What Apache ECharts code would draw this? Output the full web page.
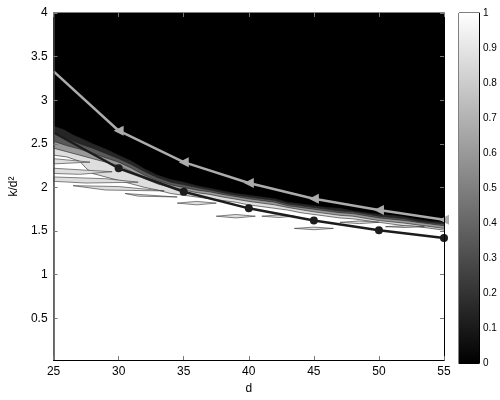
<!DOCTYPE html>
<html><head><meta charset="utf-8">
<script src="https://cdn.jsdelivr.net/npm/echarts@6/dist/echarts.min.js"></script>
<style>html,body{margin:0;padding:0;background:#fff}#c{width:500px;height:400px}</style>
</head><body><div id="c"></div>
<script>
// ---- data ----
const dValues = [25, 30, 35, 40, 45, 50, 55];
const upperCurve = [3.33, 2.65, 2.29, 2.05, 1.87, 1.74, 1.63];   // light gray, triangles
const lowerCurve = [2.63, 2.22, 1.95, 1.76, 1.62, 1.51, 1.42];   // dark, circles
const xTicks = [25, 30, 35, 40, 45, 50, 55];
const yTicks = [0.5, 1, 1.5, 2, 2.5, 3, 3.5, 4];
const colorbarTicks = [0, 0.1, 0.2, 0.3, 0.4, 0.5, 0.6, 0.7, 0.8, 0.9, 1];
const yMin = 0.02, yMax = 4, xMin = 25, xMax = 55;

// contour level boundaries (upper edge of each filled level), region above first = 0 (black)
const contourLevels = [0.15, 0.35, 0.6, 0.87, 1.0];
const level015 = [[25,2.70],[25.8,2.66],[26.5,2.60],[27.3,2.55],[28,2.50],[29,2.44],[30,2.37],[31,2.30],[32,2.21],[33,2.14],[34,2.09],[35,2.06],[36,2.02],[37,1.99],[38,1.96],[39,1.93],[40,1.91],[41,1.89],[42,1.87],[43,1.83],[44,1.81],[45,1.79],[46,1.77],[47,1.76],[48,1.73],[49,1.71],[50,1.69],[51,1.68],[52,1.66],[53,1.63],[54,1.61],[55,1.60]];
const level035 = [[25,2.62],[26,2.56],[27,2.50],[28,2.45],[29,2.39],[30,2.33],[31,2.26],[32,2.18],[33,2.11],[34,2.06],[35,2.03],[36,2.00],[37,1.97],[38,1.94],[39,1.91],[40,1.89],[42,1.85],[43,1.81],[44,1.79],[45,1.77],[47,1.73],[48,1.72],[50,1.67],[52,1.64],[53,1.61],[55,1.58]];
const level060 = [[25,2.53],[26,2.48],[27,2.44],[28,2.39],[29,2.34],[30,2.29],[31,2.22],[32,2.14],[33,2.08],[34,2.03],[35,2.00],[36,1.97],[37,1.95],[38,1.92],[40,1.87],[42,1.83],[43,1.79],[45,1.75],[47,1.71],[48,1.70],[50,1.65],[52,1.62],[55,1.56]];
const level087 = [[25,2.45],[26,2.41],[27,2.37],[28,2.33],[29,2.29],[30,2.25],[31,2.18],[32,2.10],[33,2.04],[34,2.00],[35,1.97],[36,1.94],[37,1.92],[38,1.89],[40,1.84],[42,1.80],[43,1.77],[45,1.72],[47,1.68],[48,1.67],[50,1.62],[52,1.59],[55,1.53]];
const level100 = [[25,2.37],[26,2.35],[27,2.30],[27.5,2.22],[28,2.16],[29,2.12],[30,2.08],[31,2.04],[32,2.00],[33,1.97],[34,1.93],[35,1.91],[36,1.89],[37,1.87],[38,1.85],[39,1.83],[40,1.80],[41,1.78],[42,1.76],[43,1.74],[44,1.71],[45,1.69],[46,1.67],[47,1.65],[48,1.64],[49,1.62],[50,1.60],[51,1.58],[52,1.56],[53,1.55],[54,1.53],[55,1.51]];
const contourBands = [level015, level035, level060, level087, level100];

// light-gray (0.87) fingers and islands inside the white region
const islandLevel = 0.87;
const islands = [
  [[25,2.33],[27.8,2.29],[25,2.27]],
  [[25,2.22],[29.5,2.18],[27,2.15],[25,2.16]],
  [[25,2.12],[29,2.10],[31.5,2.06],[27.5,2.05],[25,2.07]],
  [[26.5,2.02],[30,2.01],[33.5,1.96],[29,1.97]],
  [[30.5,1.93],[34.5,1.89],[31.5,1.90]],
  [[34.5,1.82],[36,1.84],[37.5,1.82],[36,1.80]],
  [[37.5,1.67],[39,1.69],[40.5,1.67],[39,1.65]],
  [[41,1.67],[42.3,1.685],[43.5,1.67],[42.3,1.655]],
  [[43.5,1.53],[45,1.545],[46.5,1.53],[45,1.515]],
  [[47,1.60],[48.5,1.615],[50,1.60],[48.5,1.585]],
  [[50.5,1.55],[52,1.56],[53.5,1.55],[52,1.54]]
];

// ---- drawing ----
const FONT = 'Liberation Sans';
function grayOf(v) { const g = Math.round(v * 255); return 'rgb(' + g + ',' + g + ',' + g + ')'; }
function markerAfterFirst(shape) {
  return function (value, params) { return params.dataIndex === 0 ? 'none' : shape; };
}

const chart = echarts.init(document.getElementById('c'), null, { renderer: 'canvas' });

const tickStyle = { color: '#777', width: 1 };
chart.setOption({
  animation: false,
  backgroundColor: '#fff',
  grid: [
    { left: 50, top: 13, width: 394, height: 350, show: true, backgroundColor: '#000', borderColor: '#000', borderWidth: 1 },
    { left: 459, top: 13, width: 20, height: 350, show: true, backgroundColor: 'transparent', borderColor: '#000', borderWidth: 1 }
  ],
  xAxis: [
    { gridIndex: 0, type: 'value', min: xMin, max: xMax, interval: 5, position: 'bottom', z: 6,
      axisLine: { show: true, onZero: false, lineStyle: { color: '#000', width: 1 } },
      axisTick: { inside: true, length: 4, lineStyle: tickStyle },
      axisLabel: { color: '#000', fontSize: 12, fontFamily: FONT, margin: 6, customValues: xTicks },
      splitLine: { show: false },
      name: 'd', nameLocation: 'middle', nameGap: 22, nameTextStyle: { color: '#000', fontSize: 12, fontFamily: FONT } },
    { gridIndex: 0, type: 'value', min: xMin, max: xMax, interval: 5, position: 'top', z: 6,
      axisLine: { show: true, onZero: false, lineStyle: { color: '#000' } },
      axisTick: { inside: true, length: 4, lineStyle: tickStyle },
      axisLabel: { show: false }, splitLine: { show: false } },
    { gridIndex: 1, type: 'category', data: [''], z: 6,
      axisLine: { show: true, lineStyle: { color: '#000' } },
      axisTick: { show: false }, axisLabel: { show: false } }
  ],
  yAxis: [
    { gridIndex: 0, type: 'value', min: yMin, max: yMax, position: 'left', z: 6,
      axisLine: { show: true, onZero: false, lineStyle: { color: '#444', width: 1.5 } },
      axisTick: { inside: true, length: 4, lineStyle: tickStyle, customValues: yTicks },
      axisLabel: { color: '#000', fontSize: 12, fontFamily: FONT, margin: 6, customValues: yTicks },
      splitLine: { show: false },
      name: 'k/d²', nameLocation: 'middle', nameGap: 33, nameTextStyle: { color: '#000', fontSize: 12, fontFamily: FONT } },
    { gridIndex: 0, type: 'value', min: yMin, max: yMax, position: 'right', z: 6,
      axisLine: { show: true, onZero: false, lineStyle: { color: '#000' } },
      axisTick: { inside: true, length: 4, lineStyle: tickStyle, customValues: yTicks },
      axisLabel: { show: false }, splitLine: { show: false } },
    { gridIndex: 1, type: 'value', min: 0, max: 1, interval: 0.1, position: 'right', z: 6,
      axisLine: { show: true, lineStyle: { color: '#000' } },
      axisTick: { inside: true, length: 3, lineStyle: tickStyle },
      axisLabel: { color: '#000', fontSize: 10, fontFamily: FONT, margin: 4, customValues: colorbarTicks },
      splitLine: { show: false } },
    { gridIndex: 1, type: 'value', min: 0, max: 1, interval: 0.1, position: 'left', z: 6,
      axisLine: { show: false },
      axisTick: { inside: true, length: 3, lineStyle: tickStyle },
      axisLabel: { show: false }, splitLine: { show: false } }
  ],
  series: [
    { type: 'custom', coordinateSystem: 'cartesian2d', xAxisIndex: 0, yAxisIndex: 0, silent: true, z: 1, clip: true,
      data: contourBands.map(b => [b[0][0], b[0][1]]),
      renderItem: function (params, api) {
        const b = contourBands[params.dataIndex];
        const edge = b.map(p => api.coord(p));
        const poly = b.concat([[xMax, yMin], [xMin, yMin]]).map(p => api.coord(p));
        return { type: 'group', children: [
          { type: 'polygon', shape: { points: poly }, style: { fill: grayOf(contourLevels[params.dataIndex]) } },
          { type: 'polyline', shape: { points: edge }, style: { fill: 'none', stroke: '#222', lineWidth: 0.6 } }
        ] };
      } },
    { type: 'custom', coordinateSystem: 'cartesian2d', xAxisIndex: 0, yAxisIndex: 0, silent: true, z: 1.5, clip: true,
      data: islands.map(b => [b[0][0], b[0][1]]),
      renderItem: function (params, api) {
        const pts = islands[params.dataIndex].map(p => api.coord(p));
        return { type: 'polygon', shape: { points: pts }, style: { fill: grayOf(islandLevel), stroke: '#333', lineWidth: 0.6 } };
      } },
    { type: 'line', xAxisIndex: 0, yAxisIndex: 0, z: 3,
      data: dValues.map((d, i) => [d, upperCurve[i]]),
      symbol: markerAfterFirst('triangle'), symbolRotate: 90, symbolSize: 10,
      lineStyle: { color: '#acacac', width: 2.5 }, itemStyle: { color: '#acacac' } },
    { type: 'line', xAxisIndex: 0, yAxisIndex: 0, z: 4,
      data: dValues.map((d, i) => [d, lowerCurve[i]]),
      symbol: markerAfterFirst('circle'), symbolSize: 8,
      lineStyle: { color: '#1c1c1c', width: 2.5 }, itemStyle: { color: '#1c1c1c' } },
    { type: 'bar', xAxisIndex: 2, yAxisIndex: 2, data: [1], barWidth: '100%', silent: true,
      itemStyle: { color: { type: 'linear', x: 0, y: 0, x2: 0, y2: 1,
        colorStops: [{ offset: 0, color: '#ffffff' }, { offset: 1, color: '#000000' }] } } }
  ]
});
</script>
</body></html>
